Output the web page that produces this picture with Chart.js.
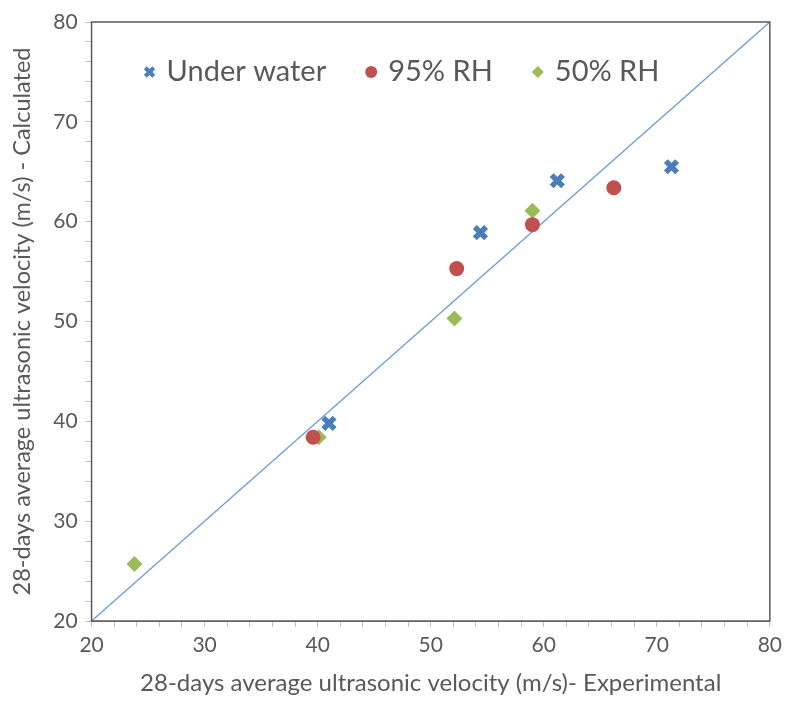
<!DOCTYPE html>
<html>
<head>
<meta charset="utf-8">
<script src="https://cdn.jsdelivr.net/npm/chart.js@4.4.1/dist/chart.umd.min.js"></script>
<style>
  html, body { margin: 0; padding: 0; background: #fff; }
  #wrap { width: 788px; height: 704px; }
</style>
</head>
<body>
<div id="wrap"><canvas id="velocity-chart" width="788" height="704"></canvas></div>
<script>
// experimental (x) vs calculated (y) velocities per curing regime
const underWaterX = [41.0, 54.4, 61.2, 71.3];
const underWaterY = [39.8, 58.9, 64.1, 65.5];
const rh95X = [39.6, 52.3, 59.0, 66.2];
const rh95Y = [38.4, 55.3, 59.7, 63.4];
const rh50X = [23.8, 40.1, 52.1, 59.0];
const rh50Y = [25.7, 38.4, 50.3, 61.1];
const equalityLine = [20, 80];

const seriesLabels = ['Under water', '95% RH', '50% RH'];
const axisMin = 20;
const axisMax = 80;

const toPoints = (xs, ys) => xs.map((x, i) => ({ x: x, y: ys[i] }));

const textColor = '#595959';
const fontFamily = 'Lato, "Open Sans", sans-serif';

// frame around the plot area
const plotBorder = {
  id: 'plotBorder',
  afterDraw(chart) {
    const { ctx, chartArea: a } = chart;
    ctx.save();
    ctx.strokeStyle = '#5a5a5a';
    ctx.lineWidth = 1.5;
    ctx.strokeRect(a.left, a.top, a.right - a.left, a.bottom - a.top);
    ctx.restore();
  }
};

// one-row legend drawn inside the plot, top left
const insideLegend = {
  id: 'insideLegend',
  afterDatasetsDraw(chart) {
    const { ctx, chartArea: a } = chart;
    let x = a.left + 58;
    const y = a.top + 50;
    ctx.save();
    ctx.font = '29px ' + fontFamily;
    ctx.textBaseline = 'middle';
    chart.data.datasets.forEach(ds => {
      if (ds.type === 'line') return;
      ctx.fillStyle = ds.backgroundColor;
      ctx.strokeStyle = ds.borderColor;
      ctx.lineWidth = 4;
      Chart.helpers.drawPoint(ctx, {
        pointStyle: ds.pointStyle,
        radius: 6,
        borderWidth: ds.pointStyle === 'crossRot' ? 4 : 0,
        rotation: 0
      }, x, y);
      ctx.fillStyle = textColor;
      ctx.fillText(ds.label, x + 17, y);
      x += 17 + ctx.measureText(ds.label).width + 45;
    });
    ctx.restore();
  }
};

const tickLabel = v => (v % 10 === 0 ? String(v) : '');

const ctx = document.getElementById('velocity-chart').getContext('2d');
new Chart(ctx, {
  type: 'scatter',
  data: {
    datasets: [
      {
        label: seriesLabels[0],
        data: toPoints(underWaterX, underWaterY),
        pointStyle: 'crossRot',
        pointRadius: 8,
        borderWidth: 5.5,
        borderColor: '#4a7ebb',
        backgroundColor: '#4a7ebb',
        order: 1
      },
      {
        label: seriesLabels[1],
        data: toPoints(rh95X, rh95Y),
        pointStyle: 'circle',
        pointRadius: 7.5,
        borderWidth: 0,
        borderColor: '#c0504d',
        backgroundColor: '#c0504d',
        order: 1
      },
      {
        label: seriesLabels[2],
        data: toPoints(rh50X, rh50Y),
        pointStyle: 'rectRot',
        pointRadius: 8,
        borderWidth: 0,
        borderColor: '#9bbb59',
        backgroundColor: '#9bbb59',
        order: 1
      },
      {
        type: 'line',
        label: '1:1',
        data: toPoints(equalityLine, equalityLine),
        borderColor: '#6f9bd4',
        borderWidth: 1.3,
        pointRadius: 0,
        fill: false,
        order: 5
      }
    ]
  },
  options: {
    responsive: false,
    animation: false,
    layout: { padding: { left: 8, right: 18, top: 22, bottom: 6 } },
    plugins: {
      tooltip: { enabled: false },
      legend: { display: false }
    },
    scales: {
      x: {
        type: 'linear',
        min: axisMin,
        max: axisMax,
        border: { color: '#8c8c8c', width: 1 },
        grid: { drawOnChartArea: false, tickLength: 6, color: '#bfbfbf' },
        ticks: {
          stepSize: 2,
          autoSkip: false,
          maxRotation: 0,
          callback: tickLabel,
          color: textColor,
          padding: 6,
          font: { family: fontFamily, size: 21 }
        },
        title: {
          display: true,
          text: '28-days average ultrasonic velocity (m/s)- Experimental',
          color: textColor,
          padding: { top: 5, bottom: 0 },
          font: { family: fontFamily, size: 24 }
        }
      },
      y: {
        type: 'linear',
        min: axisMin,
        max: axisMax,
        border: { color: '#8c8c8c', width: 1 },
        grid: { drawOnChartArea: false, tickLength: 6, color: '#bfbfbf' },
        ticks: {
          stepSize: 2,
          autoSkip: false,
          callback: tickLabel,
          color: textColor,
          padding: 8,
          font: { family: fontFamily, size: 21 }
        },
        title: {
          display: true,
          text: '28-days average ultrasonic velocity (m/s) - Calculated',
          color: textColor,
          padding: { top: 0, bottom: 9 },
          font: { family: fontFamily, size: 23.5 }
        }
      }
    }
  },
  plugins: [plotBorder, insideLegend]
});
</script>
</body>
</html>
